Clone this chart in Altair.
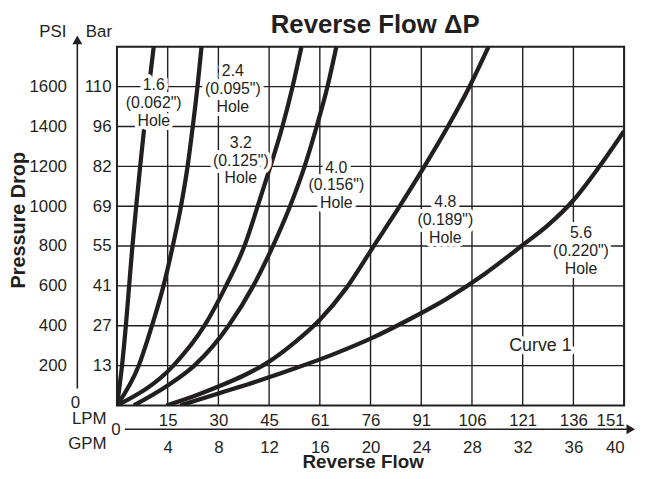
import altair as alt
import pandas as pd

# ---------------- data (GPM, PSI) ----------------
holes = ["1.6", "2.4", "3.2", "4.0", "4.8", "5.6"]

c16_q = [0, 0.4, 0.7, 0.96, 1.22, 1.52, 1.83, 2.16, 2.52, 2.9]
c16_p = [0, 200, 400, 600, 800, 1000, 1200, 1400, 1600, 1800]

c24_q = [0, 1.72, 2.76, 3.67, 4.4, 5.05, 5.57, 5.98, 6.35, 6.67]
c24_p = [0, 200, 400, 600, 800, 1000, 1200, 1400, 1600, 1800]

c32_q = [0, 4.45, 6.9, 8.6, 10.05, 11.1, 12.1, 13.05, 13.85, 14.55]
c32_p = [0, 200, 400, 600, 800, 1000, 1200, 1400, 1600, 1800]

c40_q = [1.33, 4.0, 6.1, 7.6, 8.8, 10.75, 12.3, 13.65, 14.8, 15.75, 16.6, 17.3]
c40_p = [0, 100, 200, 300, 400, 600, 800, 1000, 1200, 1400, 1600, 1800]

c48_q = [3.9, 6.0, 8.0, 10.0, 12.0, 14.0, 16.0, 18.1, 20.25, 22.3, 24.25, 26.1, 27.8, 29.3]
c48_p = [0, 45, 95, 150, 220, 315, 430, 590, 800, 1000, 1200, 1400, 1600, 1800]

c56_q = [5.0, 8.0, 11.0, 14.0, 17.0, 20.0, 23.0, 26.0, 29.0, 32.0, 34.0, 36.0, 38.0, 40.0]
c56_p = [0, 60, 120, 185, 255, 335, 430, 535, 660, 805, 905, 1030, 1195, 1378]

# axis ticks and labels
gpm_ticks = [4, 8, 12, 16, 20, 24, 28, 32, 36, 40]
lpm_labels = ["15", "30", "45", "61", "76", "91", "106", "121", "136", "151"]
psi_ticks = [200, 400, 600, 800, 1000, 1200, 1400, 1600]
bar_labels = ["13", "27", "41", "55", "69", "82", "96", "110"]

# curve annotations (position = first text line)
label_text = [
    ["1.6", "(0.062\")", "Hole"],
    ["2.4", "(0.095\")", "Hole"],
    ["3.2", "(0.125\")", "Hole"],
    ["4.0", "(0.156\")", "Hole"],
    ["4.8", "(0.189\")", "Hole"],
    ["5.6", "(0.220\")", "Hole"],
    ["Curve 1"],
]
label_q = [2.9, 9.14, 9.77, 17.3, 25.9, 36.6, 33.4]
label_p = [1607, 1677, 1318, 1194, 1020, 866, 300]
label_fs = [16, 16, 16, 16, 16, 16, 18]

# ---------------- build tables ----------------
rows = []
for name, qs, ps in zip(holes, [c16_q, c24_q, c32_q, c40_q, c48_q, c56_q],
                        [c16_p, c24_p, c32_p, c40_p, c48_p, c56_p]):
    for i, (q, p) in enumerate(zip(qs, ps)):
        rows.append({"hole": name, "q": q, "p": p, "i": i})
curves = pd.DataFrame(rows)

labels = alt.Data(values=[
    {"q": q, "p": p, "txt": t, "fs": f}
    for q, p, t, f in zip(label_q, label_p, label_text, label_fs)
])

FONT = "Liberation Sans"
INK = "#231f20"
W, H = 512, 362

xscale = alt.Scale(domain=[0, 40], nice=False, zero=False)
yscale = alt.Scale(domain=[0, 1800], nice=False, zero=False)


def arr(vals, quote):
    if quote:
        return "[" + ",".join("'" + v + "'" for v in vals) + "]"
    return "[" + ",".join(str(v) for v in vals) + "]"


lpm_expr = arr(lpm_labels, True) + "[indexof(" + arr(gpm_ticks, False) + ", datum.value)]"
bar_expr = arr(bar_labels, True) + "[indexof(" + arr(psi_ticks, False) + ", datum.value)]"

common_axis = dict(title=None, domain=False, ticks=False, grid=False,
                   labelFont=FONT, labelFontSize=17, labelColor=INK, labelAngle=0)

gpm_axis = alt.Axis(orient="bottom", values=gpm_ticks, format="d", labelPadding=35, **common_axis)
lpm_axis = alt.Axis(orient="bottom", values=gpm_ticks, labelExpr=lpm_expr, labelPadding=7, **common_axis)
bar_axis = alt.Axis(orient="left", values=psi_ticks, labelExpr=bar_expr, labelPadding=6, **common_axis)
psi_axis = alt.Axis(orient="left", values=psi_ticks, format="d", labelPadding=51, **common_axis)

grid_x = alt.Chart(pd.DataFrame({"v": gpm_ticks})).mark_rule(
    color=INK, strokeWidth=1.4
).encode(x=alt.X("v:Q", scale=xscale, axis=lpm_axis))

grid_y = alt.Chart(pd.DataFrame({"v": psi_ticks})).mark_rule(
    color=INK, strokeWidth=1.4
).encode(y=alt.Y("v:Q", scale=yscale, axis=psi_axis))

lines = alt.Chart(curves).mark_line(
    color=INK, strokeWidth=4.3, interpolate="monotone", clip=True
).encode(
    x=alt.X("q:Q", scale=xscale, axis=gpm_axis),
    y=alt.Y("p:Q", scale=yscale, axis=bar_axis),
    detail="hole:N",
    order="i:Q",
)

halo = alt.Chart(labels).mark_text(
    font=FONT, lineHeight=18, align="center", baseline="middle",
    stroke="white", strokeWidth=8, strokeJoin="round", fill="white"
).encode(
    x=alt.X("q:Q", scale=xscale, axis=None),
    y=alt.Y("p:Q", scale=yscale, axis=None),
    text="txt:N",
    size=alt.Size("fs:Q", scale=None, legend=None),
)

ann = alt.Chart(labels).mark_text(
    font=FONT, lineHeight=18, align="center", baseline="middle", color=INK
).encode(
    x=alt.X("q:Q", scale=xscale, axis=None),
    y=alt.Y("p:Q", scale=yscale, axis=None),
    text="txt:N",
    size=alt.Size("fs:Q", scale=None, legend=None),
)


def txt(s, x, y, align="center", size=17, weight="normal", angle=0, baseline="middle"):
    return alt.Chart(alt.Data(values=[{"t": s}])).mark_text(
        font=FONT, fontSize=size, fontWeight=weight, align=align,
        baseline=baseline, color=INK, angle=angle
    ).encode(x=alt.value(x), y=alt.value(y), text="t:N")


deco = [
    # y axis arrow
    alt.Chart(alt.Data(values=[{"a": 0}])).mark_rule(color=INK, strokeWidth=1.6).encode(
        x=alt.value(-40), y=alt.value(-6), y2=alt.value(345)),
    alt.Chart(alt.Data(values=[{"a": 0}])).mark_point(
        shape="triangle-up", filled=True, size=100, color=INK, opacity=1).encode(
        x=alt.value(-40), y=alt.value(-7)),
    # x axis arrow
    alt.Chart(alt.Data(values=[{"a": 0}])).mark_rule(color=INK, strokeWidth=1.6).encode(
        x=alt.value(8), x2=alt.value(517), y=alt.value(386)),
    alt.Chart(alt.Data(values=[{"a": 0}])).mark_point(
        shape="triangle-right", filled=True, size=100, color=INK, opacity=1).encode(
        x=alt.value(518.7), y=alt.value(386)),
    txt("PSI", -51, -15, align="right"),
    txt("Bar", -5, -15, align="right"),
    txt("0", -42, 360),
    txt("0", -1, 387),
    txt("LPM", -10.5, 376, align="right"),
    txt("GPM", -10.5, 401, align="right"),
    txt("Pressure Drop", -99, 175, size=20, weight="bold", angle=270),
    txt("Reverse Flow", 248.5, 425, size=19, weight="bold", baseline="alphabetic"),
    txt("Reverse Flow \u0394P", 260.7, -14, size=26, weight="bold", baseline="alphabetic"),
]

chart = alt.layer(
    grid_x, grid_y, lines, halo, ann, *deco
).resolve_axis(
    x="independent", y="independent"
).properties(
    width=W, height=H,
    padding={"left": 110, "top": 37, "right": 13, "bottom": 64},
    autosize=alt.AutoSizeParams(type="none"),
).configure_view(stroke=INK, strokeWidth=2)

chart.save("out.html", embed_options={"renderer": "svg", "actions": False})
